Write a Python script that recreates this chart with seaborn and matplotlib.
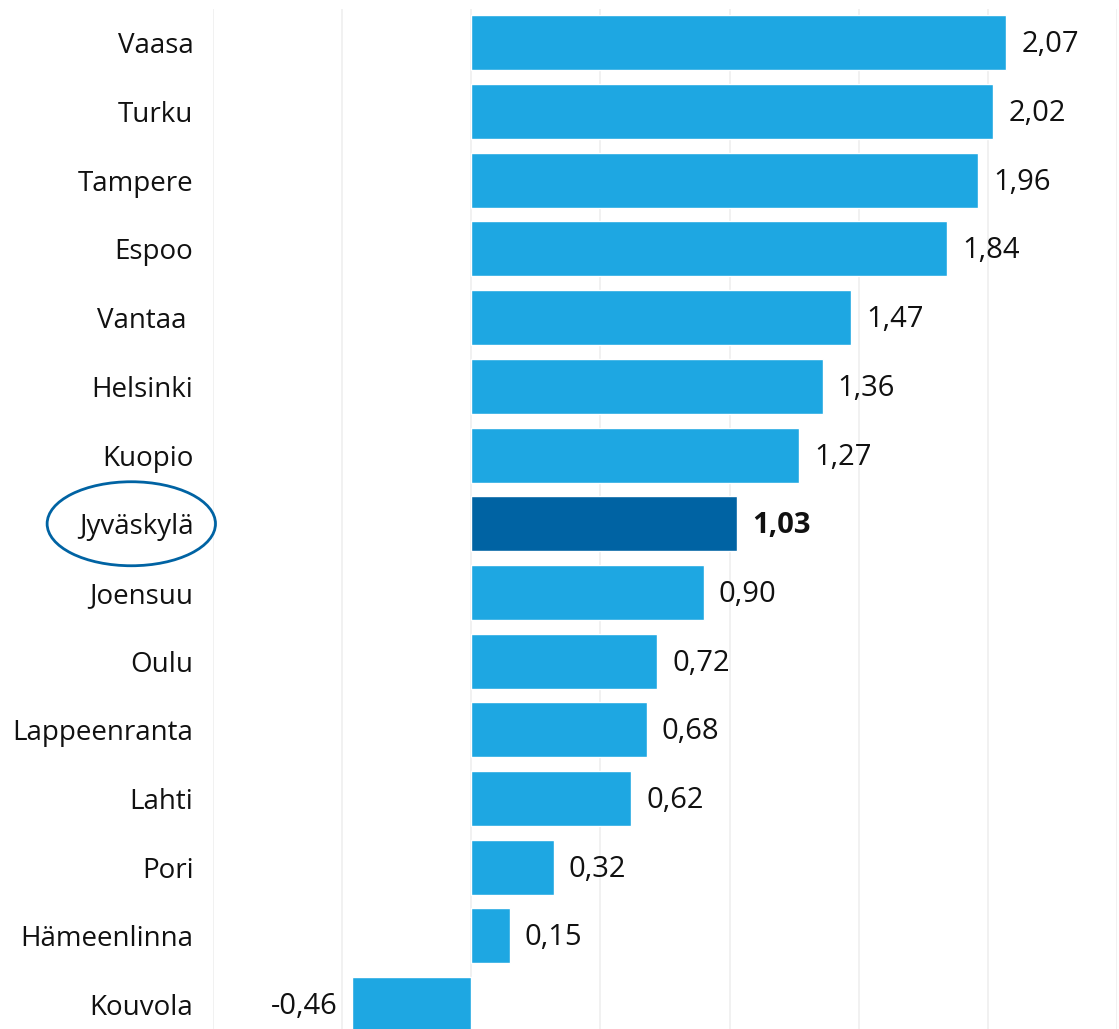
import matplotlib
matplotlib.use("Agg")
import matplotlib.pyplot as plt
import seaborn as sns
import pandas as pd
from matplotlib.patches import Ellipse

cities = ["Vaasa", "Turku", "Tampere", "Espoo", "Vantaa ", "Helsinki", "Kuopio",
          "Jyväskylä", "Joensuu", "Oulu", "Lappeenranta", "Lahti", "Pori",
          "Hämeenlinna", "Kouvola"]
values = [2.07, 2.02, 1.96, 1.84, 1.47, 1.36, 1.27, 1.03, 0.90, 0.72, 0.68,
          0.62, 0.32, 0.15, -0.46]
highlight = "Jyväskylä"

BLUE = "#1ea7e2"
DARK = "#0063a3"

sns.set_theme(style="white")
plt.rcParams["font.family"] = ["Open Sans", "DejaVu Sans"]

df = pd.DataFrame({"city": cities, "value": values})
palette = {c: (DARK if c == highlight else BLUE) for c in cities}

W, H = 1119, 1029
fig = plt.figure(figsize=(W / 100, H / 100), dpi=100)
ax_left, ax_right = 212.5, 1117.5
ax_top, pitch = 8.5, 68.7
ax_bottom = ax_top + pitch * len(cities)
ax = fig.add_axes([ax_left / W, 1 - ax_bottom / H, (ax_right - ax_left) / W,
                   (ax_bottom - ax_top) / H])

sns.barplot(data=df, x="value", y="city", hue="city", palette=palette,
            order=cities, width=0.8, legend=False, ax=ax, saturation=1)

ax.set_xlim(-1, 2.5)
ax.set_ylim(len(cities) - 0.5, -0.5)
ax.set_xticks([-1, -0.5, 0, 0.5, 1, 1.5, 2, 2.5])
ax.grid(axis="x", color="#efefef", linewidth=1.2)
ax.grid(axis="y", visible=False)
ax.set_axisbelow(True)
for s in ax.spines.values():
    s.set_visible(False)
ax.set_xlabel("")
ax.set_ylabel("")
ax.tick_params(axis="x", bottom=False, labelbottom=False)
ax.tick_params(axis="y", left=False, pad=7.7, labelsize=20, labelcolor="#111111")

for i, (c, v) in enumerate(zip(cities, values)):
    txt = f"{v:.2f}".replace(".", ",")
    bold = c == highlight
    if v >= 0:
        ax.annotate(txt, (v, i), xytext=(15, -2), textcoords="offset pixels",
                    ha="left", va="center", fontsize=21, color="#111111",
                    fontweight="bold" if bold else "normal")
    else:
        ax.annotate(txt, (v, i), xytext=(-15, -2), textcoords="offset pixels",
                    ha="right", va="center", fontsize=21, color="#111111")

idx = cities.index(highlight)
ell = Ellipse((-1.314, idx), width=168 / 258, height=84 / pitch, fill=False,
              edgecolor=DARK, linewidth=2, clip_on=False)
ax.add_patch(ell)

fig.savefig("out.png", dpi=100, facecolor="white")
